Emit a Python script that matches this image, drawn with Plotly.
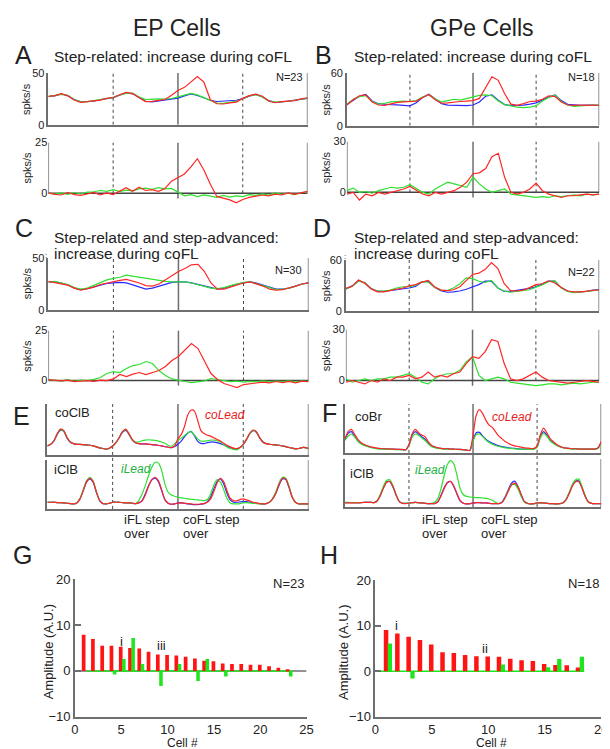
import plotly.graph_objects as go

FONT = "Liberation Sans, Arial, sans-serif"
W, H = 610, 749
RED = "#ff2626"
GREEN = "#2fe02f"
BLUE = "#2b2bff"
RED_BAR = "#ff1414"
GREEN_BAR = "#1ee61e"
AX = "#6e6e6e"
TXT = "#222222"

# time grids (step-cycle units, 0..4)
t41 = [i / 10 for i in range(41)]
t81 = [i / 20 for i in range(81)]

# ---------------- Panel A (EP, step-related) ----------------
A_top_blue = [27.2, 27.8, 29.6, 28.1, 24.3, 22.0, 22.4, 22.8, 24.1, 25.2, 26.0, 28.4, 30.6, 29.8, 26.2, 22.6, 22.1, 22.9, 23.8, 24.8,
              25.6, 27.8, 29.7, 28.2, 25.8, 23.6, 22.4, 22.6, 23.1, 23.6, 25.2, 27.6, 29.2, 27.1, 23.2, 21.6, 21.9, 22.6, 23.4, 24.6, 25.4]
A_top_green = [27.0, 28.2, 29.2, 28.4, 24.0, 22.3, 22.0, 23.2, 24.4, 25.0, 26.3, 28.8, 30.2, 30.4, 26.8, 24.2, 24.6, 25.0, 24.6, 25.3,
               26.8, 28.6, 30.2, 28.8, 26.0, 23.0, 20.8, 20.6, 21.4, 22.6, 25.0, 27.8, 28.9, 26.8, 22.8, 21.8, 22.2, 22.4, 23.6, 24.4, 25.6]
A_top_red = [27.4, 28.0, 29.9, 27.8, 23.8, 21.6, 22.2, 23.0, 23.8, 25.4, 26.2, 28.9, 31.2, 30.0, 25.8, 22.3, 22.5, 23.2, 24.3, 28.5,
             33.0, 36.0, 41.0, 46.5, 41.0, 24.0, 20.2, 20.0, 21.0, 21.8, 25.4, 28.0, 29.4, 27.4, 22.9, 21.2, 22.3, 22.8, 23.2, 24.9, 26.0]
A_bot_green = [0.3, -0.4, 0.2, -0.5, 0.4, -0.3, 0.6, 0.8, 1.4, 1.0, 1.8, 0.9, 1.6, 1.2, 2.2, 2.6, 2.0, 2.8, 2.2, 2.4,
               0.6, -1.2, -0.6, -1.6, -0.8, -1.4, -2.0, -1.0, -1.8, -1.2, -1.6, -0.6, -1.0, -0.3, -0.8, 0.2, -0.5, 0.1, -0.6, 0.4, 0.8]
A_bot_red = [0.2, -0.5, -0.8, 0.4, -0.6, -1.0, -0.3, 0.5, -0.8, 0.2, -0.6, 1.2, 2.8, 1.0, 3.0, 1.4, 1.8, 1.0, 2.4, 6.0,
             7.8, 9.5, 13.0, 17.0, 11.5, 4.5, -1.5, -2.5, -3.2, -4.6, -3.0, -2.0, -1.4, -0.8, -1.2, -0.4, -0.8, 0.2, -0.5, 0.3, 1.0]

# ---------------- Panel B (GPe, step-related) ----------------
B_top_blue = [24.0, 29.0, 33.5, 35.5, 28.0, 25.0, 24.2, 23.8, 23.6, 23.0, 22.6, 26.0, 32.0, 35.8, 30.0, 25.0, 23.4, 23.0, 22.8, 22.9,
              23.5, 27.0, 33.5, 35.0, 29.0, 24.0, 23.0, 22.8, 23.4, 24.6, 26.0, 29.0, 32.5, 35.0, 28.5, 24.2, 23.2, 23.0, 23.4, 23.2, 23.0]
B_top_green = [24.5, 30.0, 33.0, 34.0, 27.5, 24.5, 25.5, 27.0, 27.5, 28.0, 27.5, 28.5, 32.5, 35.0, 30.5, 27.0, 28.5, 30.0, 29.0, 31.0,
               33.0, 34.5, 35.0, 34.0, 28.0, 24.0, 22.5, 21.0, 20.5, 21.0, 22.5, 28.0, 32.0, 34.5, 27.5, 23.5, 22.0, 22.5, 23.0, 23.5, 23.0]
B_top_red = [23.5, 29.5, 34.0, 35.0, 27.0, 23.5, 23.0, 24.5, 26.5, 27.0, 27.5, 28.0, 32.0, 35.5, 29.5, 25.5, 26.0, 27.0, 27.5, 28.0,
             28.5, 31.0, 44.0, 55.5, 51.5, 36.5, 24.5, 23.0, 25.0, 27.5, 28.0, 30.0, 34.0, 33.0, 27.0, 23.5, 23.0, 23.5, 23.0, 23.5, 23.0]
B_bot_green = [1.0, 2.5, 0.0, 0.5, -0.5, 1.0, 2.0, 3.0, 2.5, 3.0, 4.5, 2.0, 0.0, -1.0, 2.0, 4.0, 6.0, 5.0, 4.0, 3.0,
               9.0, 5.0, 2.0, 0.0, 1.0, 2.0, -1.0, -1.5, -2.0, -2.5, -3.0, -2.5, -3.0, -2.0, -2.5, -2.0, -1.5, -2.0, -1.0, -1.5, -1.0]
B_bot_red = [-1.0, 0.0, -4.5, -1.0, -2.0, 0.0, -1.0, 0.0, 1.0, 2.0, 3.5, 1.0, -1.0, -2.0, 0.0, -1.0, 0.0, 1.0, 3.0, 6.0,
             11.0, 11.5, 14.0, 21.0, 23.0, 9.0, 0.0, -1.0, 0.0, 2.0, 5.5, 1.0, -1.0, -2.0, -3.0, -2.0, -2.0, -1.5, -1.0, -1.5, -1.0]

# ---------------- Panel C (EP, step-related + step-advanced) ----------------
C_top_blue = [27.0, 27.0, 26.0, 24.0, 21.0, 19.5, 20.5, 22.0, 24.0, 25.5, 26.0, 26.5, 26.0, 24.0, 21.5, 20.0, 21.0, 23.0, 25.0, 26.5,
              27.0, 27.0, 26.0, 24.5, 23.0, 21.0, 20.0, 21.0, 23.0, 25.0, 26.0, 27.0, 26.0, 24.0, 22.0, 20.0, 20.0, 21.0, 23.0, 25.0, 26.0]
C_top_green = [27.0, 27.5, 26.0, 24.5, 21.5, 20.0, 21.0, 23.5, 26.5, 29.0, 30.5, 31.5, 33.5, 32.5, 31.0, 30.0, 29.0, 28.0, 27.5, 27.0,
               27.0, 27.0, 26.0, 24.5, 23.0, 21.0, 20.5, 21.5, 23.5, 25.0, 26.5, 27.0, 25.5, 23.5, 21.5, 19.5, 20.0, 21.0, 23.0, 25.0, 26.0]
C_top_red = [27.5, 26.5, 25.5, 24.0, 21.0, 19.0, 20.5, 22.0, 24.5, 26.0, 27.0, 28.5, 29.5, 28.0, 26.0, 23.5, 23.0, 25.0, 29.0, 33.0,
             37.0, 40.0, 43.5, 44.0, 37.0, 26.0, 20.0, 20.0, 22.0, 24.0, 26.0, 27.0, 25.0, 23.0, 20.0, 19.0, 19.5, 21.0, 23.0, 25.0, 26.0]
C_bot_green = [0.5, 0.0, -0.3, 0.4, -0.4, 0.2, 0.0, 0.6, 1.5, 3.5, 4.5, 4.0, 6.0, 7.5, 8.0, 9.5, 8.5, 5.0, 2.5, 0.8,
               0.0, -0.5, -1.0, -0.5, -0.2, 1.0, 0.5, 0.0, -0.5, -0.3, -0.8, -0.4, -0.6, -0.2, -0.7, -0.3, -0.5, -0.2, -0.6, -0.3, -0.5]
C_bot_red = [0.5, 0.3, -0.2, 0.2, -0.5, -0.3, 0.0, -0.4, 0.2, 0.0, 0.8, 3.0, 2.0, 3.2, 4.0, 3.0, 4.2, 5.0, 7.0, 10.0,
             12.0, 15.5, 18.5, 16.0, 10.0, 3.5, 0.5, -1.5, -2.5, -3.5, -2.0, -1.5, -1.0, -0.8, -1.2, -0.5, -1.0, -0.4, -1.2, -0.3, -0.6]

# ---------------- Panel D (GPe, step-related + step-advanced) ----------------
D_top_blue = [26.0, 29.5, 36.0, 33.0, 26.5, 23.0, 23.0, 24.0, 25.0, 26.0, 27.0, 29.0, 34.0, 35.0, 28.0, 24.0, 22.0, 22.5, 23.5, 25.5,
              28.0, 31.0, 35.0, 35.0, 27.0, 23.0, 23.0, 24.0, 25.0, 26.5, 28.5, 31.5, 35.0, 35.0, 27.5, 23.5, 22.0, 22.5, 23.0, 24.5, 25.0]
D_top_green = [26.0, 29.0, 35.0, 33.5, 26.0, 23.5, 23.5, 24.5, 27.0, 28.5, 28.5, 30.0, 34.5, 34.0, 28.0, 24.5, 24.0, 27.0, 32.0, 39.0,
               38.0, 35.0, 33.5, 36.0, 27.0, 23.5, 22.0, 23.0, 24.0, 25.0, 28.0, 30.5, 34.5, 35.5, 27.0, 23.0, 21.5, 22.0, 23.0, 24.0, 25.0]
D_top_red = [26.5, 29.0, 36.5, 32.5, 26.0, 22.5, 22.5, 24.0, 25.5, 27.0, 29.5, 31.0, 34.0, 36.0, 28.5, 24.5, 24.0, 25.0, 28.5, 36.0,
             43.0, 44.5, 49.0, 57.0, 50.0, 32.0, 24.0, 23.5, 24.5, 27.5, 31.0, 32.0, 35.5, 33.0, 27.5, 23.5, 22.5, 22.5, 23.5, 24.5, 25.0]
D_bot_green = [1.0, -1.0, 0.0, 1.0, 0.0, 1.0, 1.0, 2.0, 2.0, 3.0, 4.0, 2.0, -1.0, -2.0, 1.0, 3.0, 4.0, 4.0, 6.0, 11.0,
               14.0, 3.0, 0.0, 1.0, 2.0, 1.0, -1.0, -1.5, -2.0, -2.5, -3.0, -2.5, -2.0, -2.0, -2.5, -2.0, -1.5, -2.0, -1.5, -1.0, -1.0]
D_bot_red = [-1.0, 0.0, -1.0, -2.0, 0.0, -1.0, 1.0, 0.0, 2.0, 2.0, 3.0, 1.0, 2.0, 5.0, 2.0, 3.0, 2.0, 4.0, 5.0, 10.0,
             14.0, 13.0, 17.0, 24.0, 23.0, 10.0, 1.0, 0.0, 1.0, 3.0, 5.0, 2.0, 0.0, -0.5, -1.0, -1.5, -1.0, -0.5, 0.0, -0.5, -1.0]

# ---------------- Panel E (EP, EMG: coClB / iClB), arbitrary units ----------------
E_co_blue = [28, 33, 43, 63, 76, 73, 53, 40, 35, 33, 33, 32, 31, 30, 28, 25, 22, 20, 18, 21,
             28, 38, 53, 70, 76, 63, 46, 38, 35, 34, 34, 33, 32, 31, 30, 28, 26, 24, 23, 26,
             33, 43, 56, 68, 73, 60, 43, 36, 35, 38, 40, 40, 38, 35, 31, 27, 23, 20, 18, 23,
             33, 48, 66, 75, 70, 53, 40, 35, 33, 32, 31, 30, 28, 26, 23, 21, 19, 20, 23, 23, 20]
E_co_green = [28, 33, 44, 64, 78, 74, 54, 40, 35, 33, 33, 32, 31, 30, 28, 25, 22, 20, 18, 21,
              28, 38, 54, 72, 78, 64, 47, 40, 40, 44, 46, 47, 46, 45, 43, 40, 36, 30, 27, 35,
              45, 52, 60, 68, 72, 62, 50, 43, 42, 44, 46, 46, 44, 40, 32, 25, 20, 17, 16, 22,
              33, 48, 66, 76, 72, 54, 40, 35, 33, 32, 31, 30, 28, 26, 23, 21, 19, 20, 23, 23, 20]
E_co_red = [28, 33, 44, 65, 80, 76, 55, 40, 35, 33, 33, 32, 31, 30, 28, 25, 22, 20, 18, 21,
            28, 38, 54, 72, 80, 66, 48, 38, 35, 34, 34, 33, 32, 31, 30, 28, 26, 24, 23, 28,
            50, 63, 88, 123, 138, 136, 108, 76, 66, 61, 58, 53, 48, 43, 36, 30, 25, 21, 20, 23,
            33, 48, 67, 77, 72, 54, 40, 35, 33, 32, 31, 30, 28, 26, 23, 21, 19, 20, 23, 23, 20]
E_i_blue = [20, 20, 20, 19, 19, 18, 17, 16, 15, 18, 30, 55, 80, 90, 80, 50, 25, 16, 15, 17,
            20, 20, 20, 19, 18, 18, 17, 16, 18, 25, 45, 70, 87, 92, 82, 55, 28, 17, 14, 15,
            18, 18, 17, 15, 14, 13, 13, 14, 16, 22, 35, 60, 82, 90, 75, 48, 27, 20, 20, 21,
            22, 22, 20, 18, 17, 16, 15, 16, 20, 30, 48, 72, 90, 88, 65, 35, 20, 15, 15, 15, 15]
E_i_green = [20, 20, 20, 19, 19, 18, 17, 16, 15, 18, 32, 58, 84, 95, 84, 52, 26, 16, 15, 17,
             20, 20, 20, 19, 18, 18, 17, 16, 25, 45, 70, 100, 125, 140, 138, 115, 75, 50, 42, 38,
             35, 33, 32, 30, 29, 28, 27, 26, 25, 28, 45, 72, 88, 80, 58, 32, 18, 15, 15, 16,
             18, 19, 18, 17, 16, 15, 15, 16, 20, 32, 52, 78, 95, 92, 68, 36, 20, 15, 15, 15, 15]
E_i_red = [20, 20, 20, 19, 19, 18, 17, 16, 15, 18, 30, 55, 82, 92, 82, 52, 26, 16, 15, 17,
           20, 20, 20, 19, 18, 18, 17, 16, 18, 24, 42, 68, 88, 95, 85, 58, 28, 17, 14, 15,
           18, 18, 17, 16, 15, 14, 14, 15, 16, 20, 30, 52, 78, 92, 82, 55, 32, 25, 24, 28,
           30, 27, 24, 20, 18, 16, 15, 16, 20, 30, 48, 74, 92, 90, 66, 35, 20, 15, 15, 15, 15]

# ---------------- Panel F (GPe, EMG: coBr / iClB), arbitrary units ----------------
F_co_blue = [40, 60, 65, 52, 38, 30, 25, 21, 18, 16, 14, 13, 13, 12, 12, 12, 11, 11, 10, 10,
             25, 55, 65, 58, 50, 42, 30, 22, 18, 15, 14, 13, 13, 12, 12, 11, 11, 10, 9, 8,
             40, 62, 63, 52, 42, 35, 30, 26, 22, 20, 18, 16, 15, 14, 13, 12, 12, 12, 11, 12,
             20, 50, 65, 55, 40, 32, 25, 20, 17, 15, 14, 13, 13, 12, 12, 12, 12, 12, 12, 15, 32]
F_co_green = [38, 52, 58, 50, 36, 28, 23, 20, 17, 15, 13, 12, 12, 11, 11, 11, 10, 10, 10, 10,
              22, 48, 58, 54, 46, 38, 28, 20, 16, 14, 13, 12, 12, 11, 11, 11, 10, 10, 9, 8,
              36, 56, 58, 50, 40, 32, 27, 23, 20, 18, 16, 15, 14, 13, 12, 12, 12, 11, 11, 12,
              18, 46, 60, 52, 38, 30, 24, 19, 16, 14, 13, 12, 12, 12, 12, 12, 12, 12, 12, 14, 30]
F_co_red = [42, 65, 72, 58, 42, 32, 26, 22, 19, 17, 15, 14, 13, 13, 12, 12, 12, 11, 11, 10,
            25, 58, 72, 62, 55, 50, 35, 24, 19, 16, 14, 13, 13, 12, 12, 11, 11, 10, 9, 8,
            55, 115, 132, 120, 100, 85, 78, 65, 52, 44, 35, 30, 25, 22, 20, 18, 16, 15, 14, 14,
            22, 55, 76, 62, 45, 35, 27, 21, 17, 15, 14, 13, 13, 12, 12, 12, 12, 12, 12, 16, 35]
F_i_blue = [13, 13, 13, 13, 13, 13, 14, 14, 14, 13, 18, 35, 58, 75, 77, 60, 35, 16, 11, 11,
            12, 13, 14, 13, 12, 11, 10, 10, 10, 16, 35, 58, 74, 77, 62, 38, 18, 11, 9, 10,
            12, 13, 13, 12, 12, 11, 10, 10, 10, 14, 30, 52, 72, 78, 62, 38, 17, 11, 9, 10,
            12, 12, 12, 11, 10, 10, 9, 10, 12, 22, 42, 65, 78, 78, 58, 32, 15, 11, 10, 10, 10]
F_i_green = [14, 14, 13, 13, 13, 13, 14, 14, 14, 13, 18, 36, 62, 80, 82, 64, 37, 17, 11, 11,
             12, 13, 14, 13, 12, 11, 10, 11, 14, 25, 55, 95, 128, 140, 130, 95, 55, 37, 32, 30,
             29, 28, 28, 27, 26, 24, 20, 14, 10, 13, 28, 48, 66, 68, 55, 32, 15, 10, 9, 10,
             12, 12, 12, 11, 10, 10, 9, 10, 12, 22, 44, 68, 82, 84, 62, 34, 15, 11, 10, 10, 10]
F_i_red = [12, 12, 12, 12, 12, 13, 14, 14, 14, 13, 17, 33, 56, 74, 77, 62, 36, 16, 11, 10,
           12, 13, 14, 13, 12, 11, 10, 10, 10, 15, 33, 56, 73, 77, 63, 40, 19, 11, 9, 10,
           12, 13, 13, 12, 12, 11, 10, 10, 10, 13, 27, 48, 66, 72, 62, 38, 17, 11, 9, 10,
           12, 13, 12, 11, 10, 10, 9, 10, 12, 21, 40, 63, 76, 77, 58, 32, 15, 11, 10, 10, 10]

# ---------------- Panels G / H (amplitudes per cell) ----------------
G_cells = list(range(1, 24))
G_red = [7.9, 7.0, 5.5, 5.5, 5.3, 5.0, 4.9, 4.2, 3.6, 3.5, 3.4, 3.1, 2.7, 2.2, 2.1, 1.6, 1.5, 1.5, 1.35, 1.35, 1.0, 0.7, 0.35]
G_green_cells = [4, 5, 6, 7, 9, 11, 13, 14, 16, 23]
G_green = [-0.8, 2.6, 7.2, 1.5, -3.3, 1.5, -2.2, 2.6, -1.2, -1.2]
H_cells = list(range(1, 19))
H_red = [9.1, 8.3, 7.6, 6.9, 5.9, 4.2, 4.0, 3.6, 3.3, 3.25, 3.2, 2.75, 2.45, 2.25, 1.6, 1.4, 1.3, 0.85]
H_green_cells = [1, 3, 11, 15, 16, 18]
H_green = [6.1, -1.6, 1.5, 0.9, 2.7, 3.2]
GH_xticks = {"G": [0, 5, 10, 15, 20, 25], "H": [0, 5, 10, 15, 20]}
GH_yticks = [-10, 0, 10, 20]

# ======================================================================
fig = go.Figure()
layout = {}


def xd(a, b):
    return [a / W, b / W]


def yd(top, bot):
    return [1 - bot / H, 1 - top / H]


def xr(i):
    return "x" if i == 1 else f"x{i}"


def yr(i):
    return "y" if i == 1 else f"y{i}"


def xk(i):
    return "xaxis" if i == 1 else f"xaxis{i}"


def yk(i):
    return "yaxis" if i == 1 else f"yaxis{i}"


def make_axes(i, xpx, ypx, xrange, yrange, xline, yline, yticks=None, xticks=None, tfs=11, yticks_inside=False):
    layout[xk(i)] = dict(domain=xd(*xpx), range=xrange, anchor=yr(i), showgrid=False, zeroline=False,
                         showline=xline, linecolor=AX, linewidth=1.5, ticks="",
                         showticklabels=bool(xticks), tickvals=xticks if xticks else [],
                         ticklabeloverflow="allow",
                         tickfont=dict(size=tfs, color=TXT, family=FONT), fixedrange=True)
    layout[yk(i)] = dict(domain=yd(*ypx), range=yrange, anchor=xr(i), showgrid=False, zeroline=False,
                         showline=yline, linecolor=AX, linewidth=1.5,
                         ticks="inside" if yticks_inside else "", ticklen=6, tickcolor=AX, tickwidth=1.5,
                         showticklabels=bool(yticks), tickvals=yticks if yticks else [],
                         tickfont=dict(size=tfs, color=TXT, family=FONT), fixedrange=True)


def vline(i, x, y0, y1, dot=False, width=None):
    fig.add_shape(type="line", xref=xr(i), yref=yr(i), x0=x, x1=x, y0=y0, y1=y1, layer="below",
                  line=dict(color="#444444" if dot else AX, width=width or (1 if dot else 1.5),
                            dash="dot" if dot else "solid"))


def lines(i, t, series, shape="linear"):
    for y, c in series:
        fig.add_trace(go.Scatter(x=t, y=y, mode="lines", xaxis=xr(i), yaxis=yr(i), hoverinfo="skip",
                                 line=dict(color=c, width=1.2, shape=shape, smoothing=0.7 if shape == "spline" else None)))


def ann(text, x, y, size, color=TXT, xanchor="center", yanchor="middle", angle=0):
    fig.add_annotation(text=text, x=x / W, y=1 - y / H, xref="paper", yref="paper", showarrow=False,
                       font=dict(size=size, color=color, family=FONT), xanchor=xanchor, yanchor=yanchor,
                       textangle=angle)


# --- spike-rate panels A-D
rate_panels = [
    (1, (37, 301), (59, 112), [0, 50], 50, [(A_top_blue, BLUE), (A_top_green, GREEN), (A_top_red, RED)], True),
    (2, (37, 301), (130, 195), [-6.25, 25], 25, [(A_bot_green, GREEN), (A_bot_red, RED)], False),
    (3, (341, 598), (59, 113), [0, 60], 60, [(B_top_blue, BLUE), (B_top_green, GREEN), (B_top_red, RED)], True),
    (4, (341, 598), (129, 195), [-8.08, 30], 30, [(B_bot_green, GREEN), (B_bot_red, RED)], False),
    (5, (37, 302), (248, 301), [0, 50], 50, [(C_top_blue, BLUE), (C_top_green, GREEN), (C_top_red, RED)], True),
    (6, (37, 302), (322, 385), [-5.88, 25], 25, [(C_bot_green, GREEN), (C_bot_red, RED)], False),
    (7, (340, 598), (250, 302), [0, 60], 60, [(D_top_blue, BLUE), (D_top_green, GREEN), (D_top_red, RED)], True),
    (8, (340, 598), (321, 385), [-6.92, 30], 30, [(D_bot_green, GREEN), (D_bot_red, RED)], False),
]
for i, xpx, ypx, yrange, ymax, series, top in rate_panels:
    make_axes(i, xpx, ypx, [0, 4], yrange, xline=top, yline=top, yticks=[0, ymax])
    if top:
        vline(i, 1, 0, ymax, dot=True)
        vline(i, 2, 0, ymax)
        vline(i, 3, 0, ymax, dot=True)
        vline(i, 4, 0, ymax)
    else:
        vline(i, 0, 0, ymax)
        vline(i, 1, 0, ymax, dot=True)
        vline(i, 2, -0.1 * ymax, ymax)
        vline(i, 3, 0, ymax, dot=True)
        vline(i, 4, 0, ymax)
        fig.add_shape(type="line", xref=xr(i), yref=yr(i), x0=0, x1=4, y0=0, y1=0, layer="below",
                      line=dict(color="#444444", width=1.5))
    lines(i, t41, series)

# --- EMG panels E, F
emg_panels = [
    (9, (36, 302), (397, 449), [0, 157], [(E_co_blue, BLUE), (E_co_green, GREEN), (E_co_red, RED)]),
    (10, (36, 302), (454, 504), [0, 147], [(E_i_blue, BLUE), (E_i_green, GREEN), (E_i_red, RED)]),
    (11, (339, 600), (397, 447), [0, 149], [(F_co_blue, BLUE), (F_co_green, GREEN), (F_co_red, RED)]),
    (12, (339, 600), (453, 502), [0, 145], [(F_i_blue, BLUE), (F_i_green, GREEN), (F_i_red, RED)]),
]
for i, xpx, ypx, yrange, series in emg_panels:
    make_axes(i, xpx, ypx, [0, 4], yrange, xline=True, yline=True)
    vline(i, 4, 0, yrange[1])
    lines(i, t81, series, shape="spline")

for i, (top, bot) in [(9, (397, 504)), (11, (397, 502))]:
    for x, dot in [(1, True), (2, False), (3, True)]:
        fig.add_shape(type="line", xref=xr(i), yref="paper", x0=x, x1=x, y0=1 - bot / H, y1=1 - top / H,
                      layer="below", line=dict(color="#444444" if dot else AX, width=1 if dot else 1.5,
                                               dash="dot" if dot else "solid"))

# --- bar panels G, H
for i, key, xpx, ypx, xrange, cells, red, gcells, green, zl in [
    (13, "G", (64, 300), (576, 716), [0, 25], G_cells, G_red, G_green_cells, G_green, (1.3, 23.5)),
    (14, "H", (370, 600), (577, 716), [0, 20], H_cells, H_red, H_green_cells, H_green, (0.3, 18.5)),
]:
    make_axes(i, xpx, ypx, xrange, [-10, 20], xline=True, yline=True, yticks=GH_yticks,
              xticks=GH_xticks[key], tfs=13, yticks_inside=True)
    fig.add_shape(type="line", xref=xr(i), yref=yr(i), x0=0, x1=xrange[1] if key == "G" else zl[0], y0=0, y1=0,
                  layer="below", line=dict(color=AX, width=1.5))
    fig.add_shape(type="line", xref=xr(i), yref=yr(i), x0=zl[0], x1=zl[1], y0=0, y1=0,
                  layer="below", line=dict(color=GREEN_BAR, width=1.5))
    fig.add_trace(go.Bar(x=cells, y=red, width=0.4, offset=-0.25, marker=dict(color=RED_BAR, line=dict(width=0)),
                         xaxis=xr(i), yaxis=yr(i), hoverinfo="skip"))
    fig.add_trace(go.Bar(x=gcells, y=green, width=0.38, offset=0.1, marker=dict(color=GREEN_BAR, line=dict(width=0)),
                         xaxis=xr(i), yaxis=yr(i), hoverinfo="skip"))

# data-anchored labels in G/H
for i, text, x, y in [(13, "i", 5.08, 6.4), (13, "iii", 9.3, 5.6), (14, "i", 1.9, 10.1), (14, "ii", 9.75, 5.1)]:
    fig.add_annotation(text=text, x=x, y=y, xref=xr(i), yref=yr(i), showarrow=False,
                       font=dict(size=13, color=TXT, family=FONT))

# --- text
ann("EP Cells", 168, 13, 23)
ann("GPe Cells", 479, 13, 23)
for lab, x, y in [("A", 12, 41), ("B", 317, 41), ("C", 12, 217), ("D", 316, 217), ("E", 10, 409),
                  ("F", 323, 406), ("G", 11, 551), ("H", 323, 551)]:
    ann(lab, x, y, 25)
ann("Step-related: increase during coFL", 41, 42, 15.5, xanchor="left")
ann("Step-related: increase during coFL", 346, 42, 15.5, xanchor="left")
ann("Step-related and step-advanced:", 41, 227, 15.5, xanchor="left")
ann("increase during coFL", 41, 243, 15.5, xanchor="left")
ann(":", 35, 245, 8)
ann("Step-related and step-advanced:", 346, 227, 15.5, xanchor="left")
ann("increase during coFL", 346, 243, 15.5, xanchor="left")
ann(":", 339, 246, 8)
for txt, x, y in [("N=23", 298, 63), ("N=18", 596, 63), ("N=30", 297, 260), ("N=22", 596, 262)]:
    ann(txt, x, y, 11, xanchor="right")
ann("N=23", 299, 580, 13, xanchor="right")
ann("N=18", 600, 580, 13, xanchor="right")
for x, y in [(15, 86), (15, 156), (320, 86), (320, 155), (15, 274), (15, 348), (320, 276), (320, 347)]:
    ann("spks/s", x, y, 11, angle=-90)

ann("coClB", 42, 406, 13, xanchor="left")
ann("iClB", 41, 464, 13, xanchor="left")
ann("<i>coLead</i>", 194, 408, 12, color="#e81c1c", xanchor="left")
ann("<i>iLead</i>", 109, 463, 12, color="#22b040", xanchor="left")
ann("coBr", 347, 410, 13, xanchor="left")
ann("iClB", 342, 468, 13, xanchor="left")
ann("<i>coLead</i>", 487, 410, 12, color="#e81c1c", xanchor="left")
ann("<i>iLead</i>", 408, 464, 12, color="#22b040", xanchor="left")
for x0, x1 in [(112, 172), (416, 476)]:
    ann("iFL step", x0, 515, 13, xanchor="left")
    ann("over", x0, 529, 13, xanchor="left")
    ann("coFL step", x1, 515, 13, xanchor="left")
    ann("over", x1, 529, 13, xanchor="left")

ann("Amplitude (A.U.)", 38, 650, 13, angle=-90)
ann("Amplitude (A.U.)", 338, 650, 13, angle=-90)
ann("Cell #", 174, 743, 12, yanchor="middle")
ann("Cell #", 488, 743, 12, yanchor="middle")

fig.update_layout(width=W, height=H, margin=dict(l=0, r=0, t=0, b=0), paper_bgcolor="white",
                  plot_bgcolor="rgba(0,0,0,0)", showlegend=False, barmode="overlay",
                  font=dict(family=FONT, color=TXT), **layout)
fig.write_html("out.html")
